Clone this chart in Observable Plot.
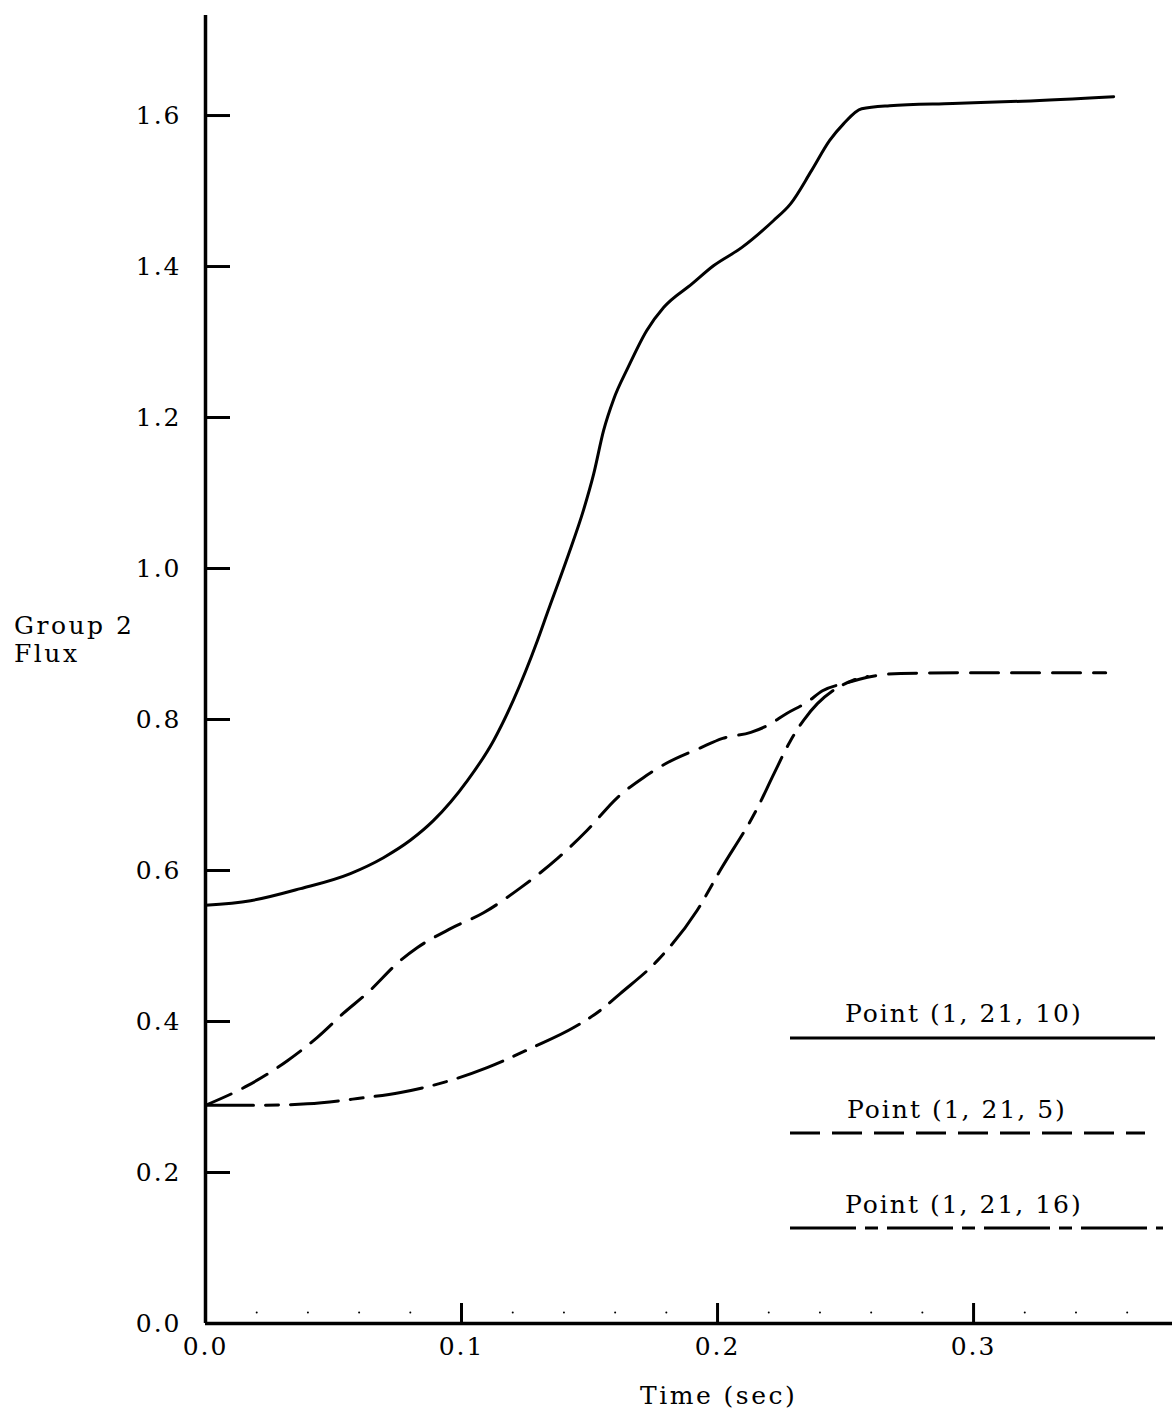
<!DOCTYPE html>
<html>
<head>
<meta charset="utf-8">
<script src="https://cdn.jsdelivr.net/npm/d3@7"></script>
<script src="https://cdn.jsdelivr.net/npm/@observablehq/plot@0.6"></script>
<style>
  html, body { margin: 0; padding: 0; background: #fff; }
  #wrap { position: relative; width: 1172px; height: 1414px; font-family: "DejaVu Serif", serif; color: #000; }
  .lbl { position: absolute; font-size: 25px; letter-spacing: 2.5px; white-space: nowrap; line-height: 28px; }
  #legend { position: absolute; left: 0; top: 0; }
</style>
</head>
<body>
<div id="wrap"></div>
<script>
// ---- Data ----
// Point (1, 21, 10) - solid
const t10 = [0, 0.0176, 0.0371, 0.0566, 0.0695, 0.080, 0.089, 0.1023, 0.1125, 0.1203, 0.1297, 0.1336, 0.1414, 0.1477, 0.1516, 0.1555, 0.1594, 0.165, 0.1723, 0.179, 0.190, 0.1984, 0.2094, 0.2219, 0.2285, 0.2367, 0.2438, 0.2492, 0.2563, 0.2672, 0.2918, 0.3191, 0.3547];
const v10 = [0.554, 0.560, 0.576, 0.596, 0.617, 0.640, 0.666, 0.719, 0.772, 0.826, 0.905, 0.942, 1.015, 1.078, 1.125, 1.183, 1.224, 1.266, 1.315, 1.346, 1.377, 1.401, 1.425, 1.461, 1.483, 1.527, 1.567, 1.589, 1.609, 1.613, 1.616, 1.619, 1.625];
// Point (1, 21, 5) - short dashes
const t5 = [0, 0.0164, 0.032, 0.0437, 0.0539, 0.0633, 0.0762, 0.0828, 0.0957, 0.1086, 0.123, 0.1375, 0.149, 0.161, 0.171, 0.180, 0.193, 0.202, 0.213, 0.2195, 0.227, 0.235, 0.241, 0.251, 0.2586, 0.2715, 0.298, 0.3516];
const v5 = [0.289, 0.315, 0.348, 0.379, 0.411, 0.438, 0.481, 0.498, 0.523, 0.544, 0.577, 0.616, 0.653, 0.697, 0.723, 0.742, 0.762, 0.775, 0.783, 0.792, 0.808, 0.823, 0.838, 0.849, 0.856, 0.861, 0.862, 0.862];
// Point (1, 21, 16) - long dash / short dash
const t16 = [0, 0.0203, 0.0398, 0.0594, 0.0762, 0.0957, 0.110, 0.128, 0.1438, 0.1543, 0.162, 0.1766, 0.192, 0.201, 0.2156, 0.222, 0.2285, 0.2336, 0.239, 0.245, 0.253, 0.2586];
const v16 = [0.289, 0.289, 0.291, 0.298, 0.306, 0.322, 0.339, 0.366, 0.392, 0.415, 0.437, 0.481, 0.547, 0.600, 0.683, 0.728, 0.772, 0.799, 0.821, 0.838, 0.852, 0.857];

const xTickLabels = [0.0, 0.1, 0.2, 0.3];
const xTickMarks = [0.1, 0.2, 0.3];
const xMinorDots = [0.02, 0.04, 0.06, 0.08, 0.12, 0.14, 0.16, 0.18, 0.22, 0.24, 0.26, 0.28, 0.32, 0.34, 0.36];
const yTickLabels = [0.0, 0.2, 0.4, 0.6, 0.8, 1.0, 1.2, 1.4, 1.6];
const yTickMarks = [0.2, 0.4, 0.6, 0.8, 1.0, 1.2, 1.4, 1.6];

const legendLabels = ["Point (1, 21, 10)", "Point (1, 21, 5)", "Point (1, 21, 16)"];
const yLabelLines = ["Group 2", "Flux"];
const xLabel = "Time (sec)";

const dash5 = "28,13";
const dash16 = "48,12,13,12";

const fmt = d => d.toFixed(1);

const chart = Plot.plot({
  width: 1172,
  height: 1414,
  marginLeft: 205,
  marginRight: 0,
  marginTop: 15,
  marginBottom: 91,
  style: { fontFamily: "DejaVu Serif, serif", fontSize: "25px", letterSpacing: "2px", background: "#fff", color: "#000" },
  x: { domain: [0, 0.3777], label: null },
  y: { domain: [0, 1.7325], label: null },
  marks: [
    Plot.ruleX([0], { stroke: "#000", strokeWidth: 3.5 }),
    Plot.ruleY([0], { stroke: "#000", strokeWidth: 3.5 }),
    Plot.axisY({ ticks: yTickMarks, tickSize: -25, tickFormat: () => "", strokeWidth: 3, label: null }),
    Plot.axisY({ ticks: yTickLabels, tickSize: 0, tickPadding: 24, tickFormat: fmt, label: null }),
    Plot.axisX({ ticks: xTickMarks, tickSize: -20, tickFormat: () => "", strokeWidth: 3, label: null }),
    Plot.axisX({ ticks: xTickLabels, tickSize: 0, tickPadding: 14, tickFormat: fmt, label: null }),
    Plot.dot(xMinorDots, { x: d => d, y: 0, dy: -11, r: 1, fill: "#000", stroke: null }),
    Plot.line(v10, { x: t10, y: v10, curve: "monotone-x", stroke: "#000", strokeWidth: 3 }),
    Plot.line(v5, { x: t5, y: v5, curve: "monotone-x", stroke: "#000", strokeWidth: 3, strokeDasharray: dash5 }),
    Plot.line(v16, { x: t16, y: v16, curve: "monotone-x", stroke: "#000", strokeWidth: 3, strokeDasharray: dash16 })
  ]
});

const wrap = document.getElementById("wrap");
wrap.appendChild(chart);

// Y label
const yl = document.createElement("div");
yl.className = "lbl";
yl.style.left = "14px";
yl.style.top = "612px";
yl.innerHTML = yLabelLines.join("<br>");
wrap.appendChild(yl);

// X label
const xl = document.createElement("div");
xl.className = "lbl";
xl.style.left = "640px";
xl.style.top = "1382px";
xl.textContent = xLabel;
wrap.appendChild(xl);

// Legend
const legendSpec = [
  { label: legendLabels[0], textTop: 1000, textLeft: 845, lineY: 1038, x1: 790, x2: 1155, dash: null },
  { label: legendLabels[1], textTop: 1096, textLeft: 847, lineY: 1133, x1: 790, x2: 1145, dash: "30,12" },
  { label: legendLabels[2], textTop: 1191, textLeft: 845, lineY: 1228, x1: 790, x2: 1163, dash: "66,9,13,9" }
];
const ns = "http://www.w3.org/2000/svg";
const lsvg = document.createElementNS(ns, "svg");
lsvg.setAttribute("id", "legend");
lsvg.setAttribute("width", 1172);
lsvg.setAttribute("height", 1414);
lsvg.style.pointerEvents = "none";
legendSpec.forEach(s => {
  const ln = document.createElementNS(ns, "line");
  ln.setAttribute("x1", s.x1); ln.setAttribute("x2", s.x2);
  ln.setAttribute("y1", s.lineY); ln.setAttribute("y2", s.lineY);
  ln.setAttribute("stroke", "#000"); ln.setAttribute("stroke-width", 3);
  if (s.dash) ln.setAttribute("stroke-dasharray", s.dash);
  lsvg.appendChild(ln);
  const tx = document.createElement("div");
  tx.className = "lbl";
  tx.style.left = s.textLeft + "px";
  tx.style.top = s.textTop + "px";
  tx.style.letterSpacing = "2px";
  tx.textContent = s.label;
  wrap.appendChild(tx);
});
wrap.appendChild(lsvg);
</script>
</body>
</html>
